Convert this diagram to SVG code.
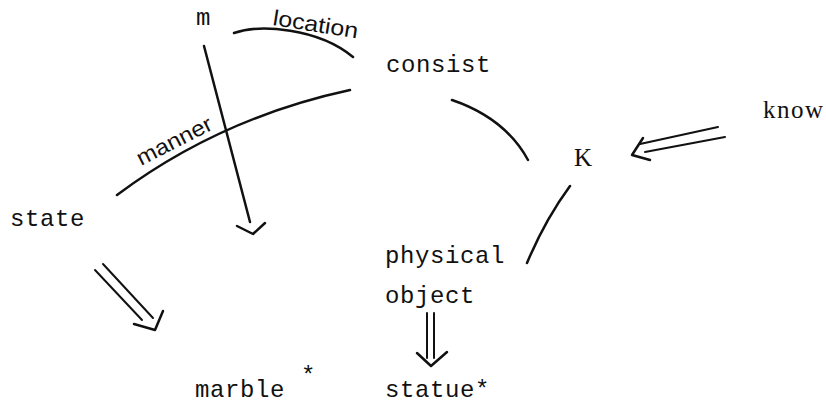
<svg xmlns="http://www.w3.org/2000/svg" width="826" height="404" viewBox="0 0 826 404">
<style>
.t{font-family:"Liberation Mono","DejaVu Sans Mono",monospace;font-size:24px;letter-spacing:0.6px;fill:#111}
.s{font-family:"Liberation Serif","DejaVu Serif",serif;font-size:25px;fill:#111}
.h{font-family:"Liberation Sans","DejaVu Sans",sans-serif;font-size:22px;fill:#111}
.l{fill:none;stroke:#111;stroke-width:2.5;stroke-linecap:round;stroke-linejoin:round}
.d{fill:none;stroke:#111;stroke-width:2;stroke-linecap:round;stroke-linejoin:round}
</style>
<rect width="826" height="404" fill="#fff"/>
<g id="connectors">
  <path class="l" d="M234,33 C260,24 318,28 353,57"/>
  <path class="l" d="M117,195 Q220,118 350,90"/>
  <path class="l" d="M204,46 L250,222"/>
  <path class="l" d="M237,226 L253,234 L265,223"/>
  <path class="l" d="M452,100 Q505,118 528,160"/>
  <path class="l" d="M570,186 Q545,220 527,263"/>
  <path class="d" d="M718,127 L640,144 M725,137 L645,152"/>
  <path class="l" d="M643,138 L632,155 L650,160"/>
  <path class="d" d="M95,270 L142,320 M103,264 L153,318"/>
  <path class="l" d="M134,324 L155,330 L163,311"/>
  <path class="d" d="M427,313 L427,358 M434,313 L434,358"/>
  <path class="l" d="M417,353 L431,366 L447,352"/>
</g>
<g id="edge-labels">
  <text class="h" x="272" y="25" textLength="86" lengthAdjust="spacingAndGlyphs" transform="rotate(9 272 25)">location</text>
  <text class="h" x="141" y="166" textLength="82" lengthAdjust="spacingAndGlyphs" transform="rotate(-27 141 166)">manner</text>
</g>
<g id="node-m"><text class="t" x="196" y="25">m</text></g>
<g id="node-consist"><text class="t" x="386" y="72">consist</text></g>
<g id="node-know"><text class="s" x="763" y="118" textLength="60">know</text></g>
<g id="node-K"><text class="s" x="574" y="166">K</text></g>
<g id="node-state"><text class="t" x="10" y="226">state</text></g>
<g id="node-physical-object"><text class="t" x="385" y="263">physical</text><text class="t" x="385" y="303">object</text></g>
<g id="node-marble"><text class="t" x="195" y="397">marble</text><text class="t" x="301" y="383">*</text></g>
<g id="node-statue"><text class="t" x="385" y="397">statue*</text></g>
</svg>
